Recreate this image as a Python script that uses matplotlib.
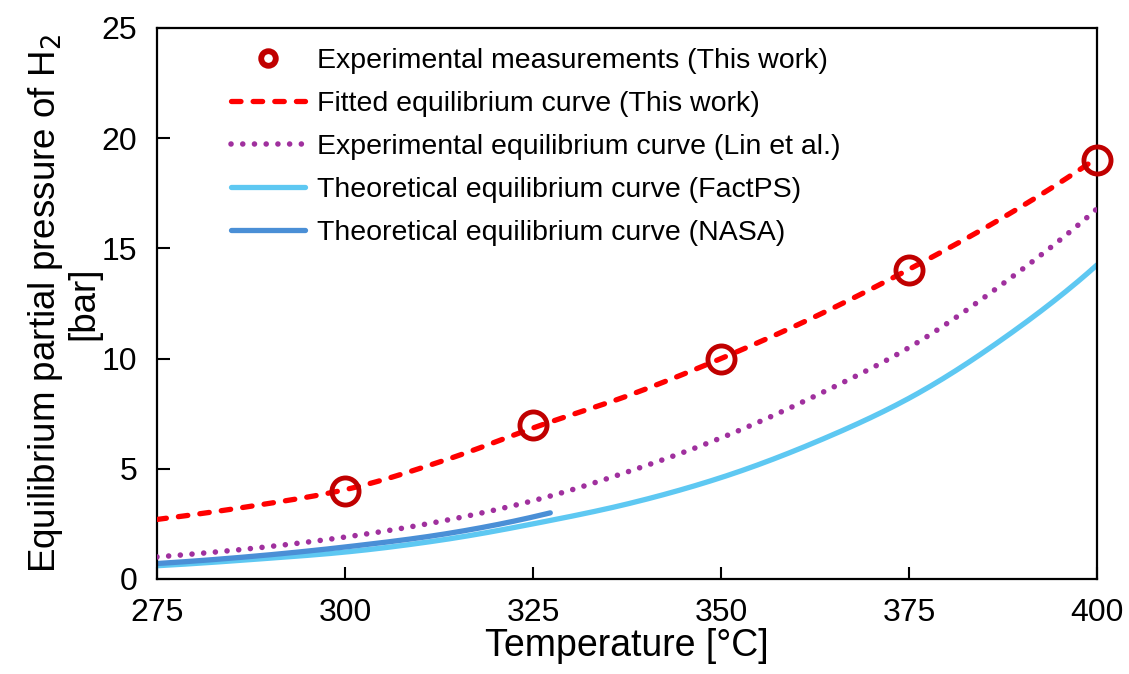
import matplotlib
matplotlib.use("Agg")
import matplotlib.pyplot as plt
import numpy as np
from matplotlib.lines import Line2D

plt.rcParams['font.family'] = ['Liberation Sans', 'DejaVu Sans']

# Data
exp_T = [300, 325, 350, 375, 400]
exp_P = [4.0, 7.0, 10.0, 14.0, 19.0]

fit_T = [275, 287.5, 300, 312.5, 325, 337.5, 350, 362.5, 375, 387.5, 400]
fit_P = [2.7, 3.3, 4.05, 5.3, 6.85, 8.3, 10.0, 11.9, 14.05, 16.4, 19.1]

lin_T = [275, 287.5, 300, 312.5, 325, 337.5, 350, 362.5, 375, 387.5, 400]
lin_P = [1.0, 1.38, 1.9, 2.6, 3.55, 4.85, 6.4, 8.3, 10.5, 13.4, 16.8]

fact_T = [275, 287.5, 300, 312.5, 325, 337.5, 350, 362.5, 375, 387.5, 400]
fact_P = [0.6, 0.88, 1.22, 1.75, 2.5, 3.4, 4.6, 6.2, 8.2, 10.9, 14.25]

nasa_T = [275, 287.5, 300, 312.5, 320, 327.3]
nasa_P = [0.7, 1.02, 1.45, 2.0, 2.45, 3.0]

labels = ["Experimental measurements (This work)",
          "Fitted equilibrium curve (This work)",
          "Experimental equilibrium curve (Lin et al.)",
          "Theoretical equilibrium curve (FactPS)",
          "Theoretical equilibrium curve (NASA)"]


def smooth(x, y, n=300):
    """Cubic Hermite through the read points (in log space)."""
    x = np.asarray(x, float)
    ly = np.log(np.asarray(y, float))
    m = np.gradient(ly, x)
    xs = np.linspace(x[0], x[-1], n)
    idx = np.clip(np.searchsorted(x, xs, side='right') - 1, 0, len(x) - 2)
    h = x[idx + 1] - x[idx]
    t = (xs - x[idx]) / h
    h00 = 2 * t**3 - 3 * t**2 + 1
    h10 = t**3 - 2 * t**2 + t
    h01 = -2 * t**3 + 3 * t**2
    h11 = t**3 - t**2
    out = h00 * ly[idx] + h10 * h * m[idx] + h01 * ly[idx + 1] + h11 * h * m[idx + 1]
    return xs, np.exp(out)


fig = plt.figure(figsize=(11.29, 6.74), dpi=100)
ax = fig.add_axes([0.139, 0.141, 0.8327, 0.8175])

h_exp, = ax.plot(exp_T, exp_P, linestyle='none', marker='o', markersize=19.5,
                 markerfacecolor='none', markeredgecolor='#C00000',
                 markeredgewidth=3.5, zorder=5, label=labels[0], clip_on=False)
xs, ys = smooth(fit_T, fit_P)
h_fit, = ax.plot(xs, ys, color='#FF0000', lw=3.8, linestyle=(0, (1.8, 2.3)),
                 dash_capstyle='round', label=labels[1], zorder=4)
xs, ys = smooth(lin_T, lin_P)
h_lin, = ax.plot(xs, ys, color='#A0309E', lw=4.0, linestyle=(0, (0.01, 2.1)),
                 dash_capstyle='round', label=labels[2], zorder=3)
xs, ys = smooth(fact_T, fact_P)
h_fact, = ax.plot(xs, ys, color='#5EC8F2', lw=3.8, solid_capstyle='round',
                  label=labels[3], zorder=2)
xs, ys = smooth(nasa_T, nasa_P)
h_nasa, = ax.plot(xs, ys, color='#4A8FD6', lw=3.8, solid_capstyle='round',
                  label=labels[4], zorder=2.5)

ax.set_xlim(275, 400)
ax.set_ylim(0, 25)
ax.set_xticks([275, 300, 325, 350, 375, 400])
ax.set_yticks([0, 5, 10, 15, 20, 25])
ax.tick_params(axis='both', direction='in', length=9, width=1.5,
               labelsize=23, top=False, right=False)
ax.tick_params(axis='x', pad=14)
ax.tick_params(axis='y', pad=14)
for s in ax.spines.values():
    s.set_linewidth(1.6)

ax.set_xlabel("Temperature [°C]", fontsize=27, labelpad=0)
ax.set_ylabel("Equilibrium partial pressure of H$_2$\n[bar]", fontsize=26.5,
              labelpad=0, linespacing=1.08)

leg_exp = Line2D([], [], linestyle='none', marker='o', markersize=10.5,
                 markerfacecolor='none', markeredgecolor='#C00000',
                 markeredgewidth=4.2)
leg = ax.legend([leg_exp, h_fit, h_lin, h_fact, h_nasa], labels,
                loc='upper left', bbox_to_anchor=(0.058, 1.0), frameon=False,
                fontsize=20.5, handlelength=2.6, handletextpad=0.4,
                labelspacing=0.6, borderaxespad=0.3)

fig.savefig("out.png", dpi=100)
